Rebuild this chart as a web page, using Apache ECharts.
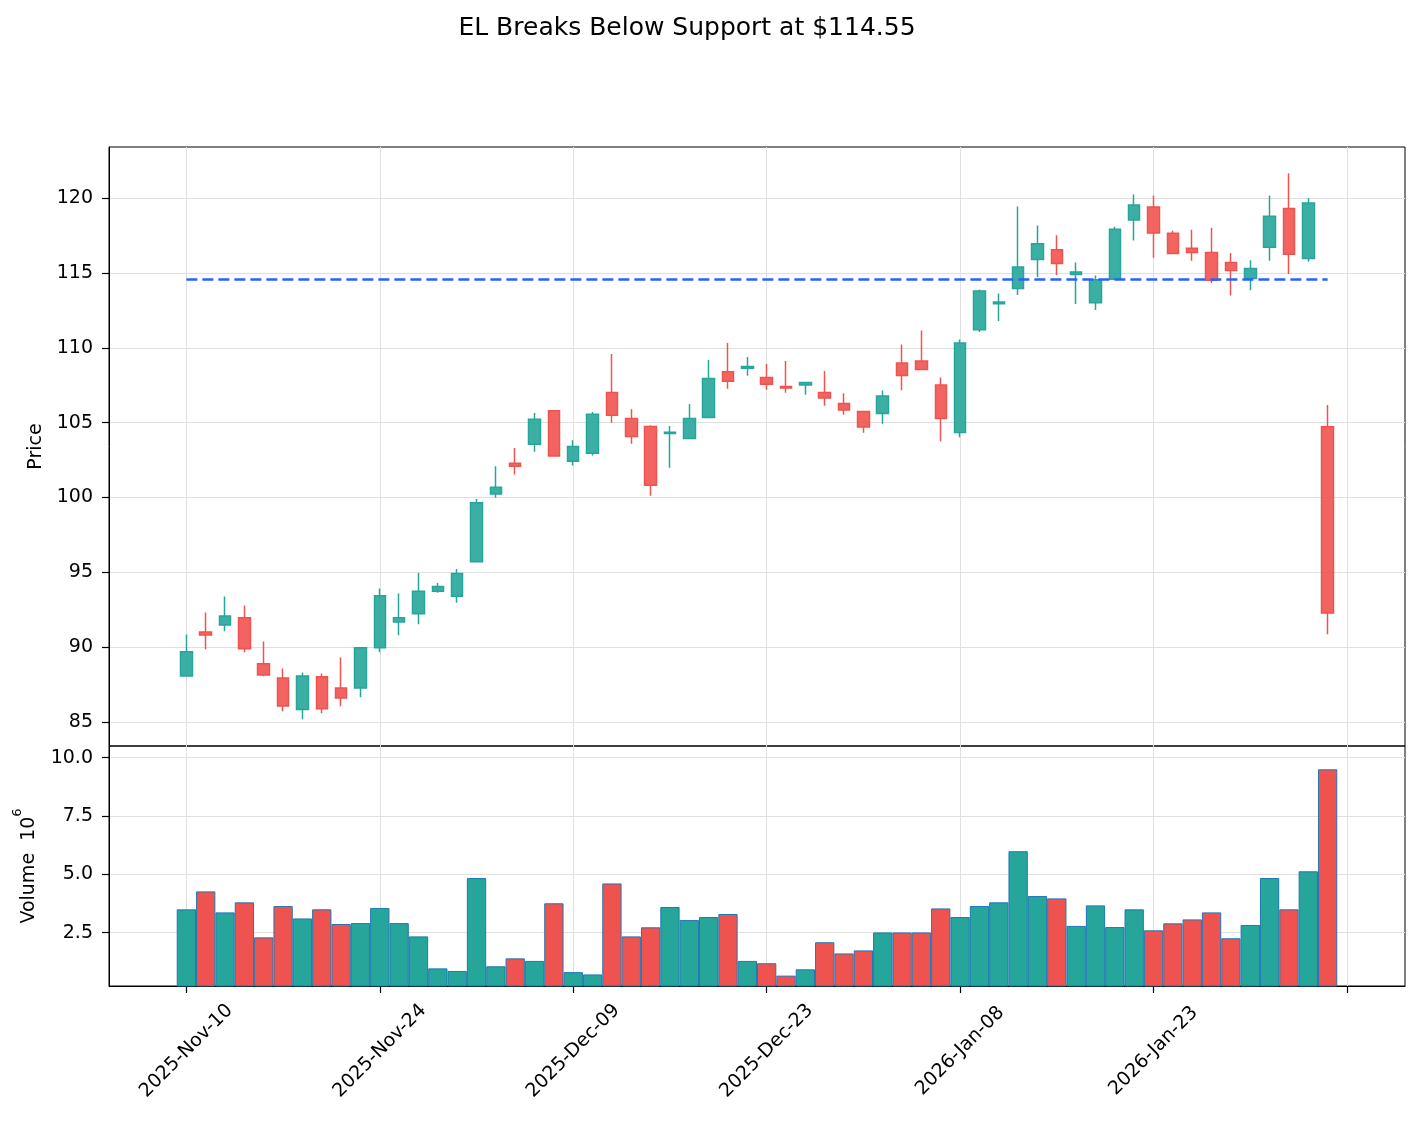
<!DOCTYPE html>
<html>
<head>
<meta charset="utf-8">
<script src="https://cdn.jsdelivr.net/npm/echarts@6/dist/echarts.min.js"></script>
<style>
html, body { margin: 0; padding: 0; background: #fff; }
#main { width: 1420px; height: 1126px; }
</style>
</head>
<body>
<div id="main"></div>
<script>
// trading days shown on the chart
var dates = [
    '2025-Nov-10', '2025-Nov-11', '2025-Nov-12', '2025-Nov-13', '2025-Nov-14',
    '2025-Nov-17', '2025-Nov-18', '2025-Nov-19', '2025-Nov-20', '2025-Nov-21',
    '2025-Nov-24', '2025-Nov-25', '2025-Nov-26', '2025-Nov-28', '2025-Dec-01',
    '2025-Dec-02', '2025-Dec-03', '2025-Dec-04', '2025-Dec-05', '2025-Dec-08',
    '2025-Dec-09', '2025-Dec-10', '2025-Dec-11', '2025-Dec-12', '2025-Dec-15',
    '2025-Dec-16', '2025-Dec-17', '2025-Dec-18', '2025-Dec-19', '2025-Dec-22',
    '2025-Dec-23', '2025-Dec-24', '2025-Dec-26', '2025-Dec-29', '2025-Dec-30',
    '2025-Dec-31', '2026-Jan-02', '2026-Jan-05', '2026-Jan-06', '2026-Jan-07',
    '2026-Jan-08', '2026-Jan-09', '2026-Jan-12', '2026-Jan-13', '2026-Jan-14',
    '2026-Jan-15', '2026-Jan-16', '2026-Jan-20', '2026-Jan-21', '2026-Jan-22',
    '2026-Jan-23', '2026-Jan-26', '2026-Jan-27', '2026-Jan-28', '2026-Jan-29',
    '2026-Jan-30', '2026-Feb-02', '2026-Feb-03', '2026-Feb-04', '2026-Feb-05'
];

var opens = [
    88.08, 91.02, 91.49, 91.96, 88.89, 87.95, 85.84, 88.02, 87.28, 87.28,
    89.96, 91.69, 92.23, 93.73, 93.40, 95.71, 100.23, 102.28, 103.55, 105.80,
    102.42, 102.95, 107.02, 105.28, 104.74, 104.28, 103.94, 105.35, 108.40, 108.64,
    108.02, 107.42, 107.51, 107.02, 106.28, 105.75, 105.61, 108.98, 109.11, 107.51,
    104.34, 111.20, 112.94, 113.96, 115.90, 116.55, 114.90, 113.01, 114.57, 118.53,
    119.40, 117.65, 116.64, 116.37, 115.70, 114.62, 116.71, 119.31, 115.97, 104.73
];
var closes = [
    89.69, 90.82, 92.09, 89.89, 88.15, 86.08, 88.08, 85.88, 86.61, 89.96,
    93.43, 91.96, 93.73, 94.06, 94.93, 99.65, 100.68, 102.08, 105.22, 102.77,
    103.40, 105.56, 105.50, 104.08, 100.82, 104.36, 105.28, 107.95, 107.77, 108.75,
    107.57, 107.31, 107.68, 106.64, 105.84, 104.70, 106.77, 108.15, 108.55, 105.28,
    110.31, 113.79, 113.05, 115.39, 116.95, 115.63, 115.06, 114.54, 117.92, 119.54,
    117.67, 116.30, 116.37, 114.51, 115.16, 115.29, 118.78, 116.24, 119.67, 92.28
];
var lows = [
    88.05, 89.87, 91.07, 89.67, 88.06, 85.72, 85.19, 85.59, 86.06, 86.66,
    89.67, 90.80, 91.54, 93.64, 92.97, 95.65, 99.99, 101.53, 103.06, 102.75,
    102.13, 102.80, 104.99, 103.59, 100.11, 101.98, 103.92, 105.33, 107.26, 108.13,
    107.19, 106.99, 106.86, 106.12, 105.52, 104.32, 104.92, 107.17, 108.53, 103.76,
    104.03, 111.05, 111.78, 113.52, 114.72, 114.86, 112.92, 112.52, 114.55, 117.16,
    116.01, 116.28, 115.81, 114.33, 113.49, 113.85, 115.81, 114.93, 115.74, 90.86
];
var highs = [
    90.85, 92.32, 93.39, 92.78, 90.38, 88.57, 88.31, 88.24, 89.31, 90.00,
    93.92, 93.59, 94.96, 94.29, 95.22, 99.90, 102.08, 103.31, 105.65, 105.82,
    103.82, 105.71, 109.58, 105.90, 104.83, 104.77, 106.24, 109.18, 110.31, 109.38,
    108.91, 109.11, 107.70, 108.44, 106.97, 105.77, 107.15, 110.22, 111.16, 108.02,
    110.56, 113.90, 113.63, 119.44, 118.17, 117.51, 115.70, 114.83, 118.08, 120.24,
    120.17, 117.81, 117.88, 118.01, 116.33, 115.85, 120.17, 121.65, 120.01, 106.18
];
// volume in millions of shares
var volumes = [
    3.50, 4.27, 3.37, 3.80, 2.30, 3.64, 3.11, 3.50, 2.87, 2.91,
    3.56, 2.91, 2.34, 0.97, 0.86, 4.84, 1.06, 1.40, 1.29, 3.76,
    0.81, 0.71, 4.61, 2.34, 2.73, 3.60, 3.04, 3.17, 3.30, 1.29,
    1.19, 0.66, 0.93, 2.09, 1.61, 1.74, 2.51, 2.51, 2.51, 3.54,
    3.17, 3.64, 3.80, 5.99, 4.07, 3.97, 2.79, 3.67, 2.74, 3.50,
    2.60, 2.90, 3.07, 3.37, 2.26, 2.83, 4.84, 3.50, 5.13, 9.50
];

var priceTicks = [85, 90, 95, 100, 105, 110, 115, 120];
var volumeTicks = [2.5, 5.0, 7.5, 10.0];
var support = 114.55;
var tickEvery = 10;

var upColor = '#26a69a';
var downColor = '#ef5350';
var font = 'DejaVu Sans';

// empty slots on both sides, like the matplotlib x limits
var padLeft = 4, padRight = 4;
var cats = [];
for (var i = 0; i < padLeft; i++) cats.push('padL' + i);
cats = cats.concat(dates);
for (var i = 0; i < padRight; i++) cats.push('padR' + i);

function isTick(idx) {
    var k = idx - padLeft;
    return k >= 0 && k % tickEvery === 0;
}

var candleData = [];
var volumeData = [];
for (var i = 0; i < dates.length; i++) {
    candleData.push([dates[i], opens[i], closes[i], lows[i], highs[i]]);
    volumeData.push({
        value: [dates[i], volumes[i]],
        itemStyle: { color: closes[i] >= opens[i] ? upColor : downColor }
    });
}

var myChart = echarts.init(document.getElementById('main'));

var gridLine = { show: true, lineStyle: { color: '#e0e0e0', width: 1 } };

var option = {
    animation: false,
    backgroundColor: '#fff',
    title: {
        text: 'EL Breaks Below Support at $114.55',
        left: 682,
        textAlign: 'center',
        top: 11,
        textStyle: { fontSize: 25, fontWeight: 'normal', color: '#000', fontFamily: font }
    },
    grid: [
        { left: 109, top: 147, width: 1296, height: 599, show: true, borderColor: '#000', borderWidth: 1 },
        { left: 109, top: 746, width: 1296, height: 240, show: true, borderColor: '#000', borderWidth: 1 }
    ],
    xAxis: [
        {
            gridIndex: 0, type: 'category', data: cats, boundaryGap: false,
            axisLine: { show: false },
            axisTick: { show: false },
            axisLabel: { show: false },
            splitLine: { show: true, interval: isTick, lineStyle: { color: '#e0e0e0', width: 1 } }
        },
        {
            gridIndex: 1, type: 'category', data: cats, boundaryGap: false,
            axisLine: { show: true, lineStyle: { color: '#000' } },
            axisTick: { show: true, interval: isTick, length: 7, lineStyle: { color: '#000', width: 1.2 } },
            axisLabel: {
                interval: isTick,
                rotate: 45,
                align: 'center',
                verticalAlign: 'middle',
                margin: 65,
                fontSize: 19,
                color: '#000',
                fontFamily: font,
                formatter: function (v) { return v.indexOf('pad') === 0 ? '' : v; }
            },
            splitLine: { show: true, interval: isTick, lineStyle: { color: '#e0e0e0', width: 1 } }
        }
    ],
    yAxis: [
        {
            gridIndex: 0, type: 'value', min: 83.4, max: 123.41, splitNumber: 8,
            axisLine: { show: true, lineStyle: { color: '#000' } },
            axisTick: { show: true, length: 7, customValues: priceTicks, lineStyle: { color: '#000', width: 1.2 } },
            axisLabel: { customValues: priceTicks, fontSize: 19, color: '#000', margin: 16, fontFamily: font },
            splitLine: gridLine,
            name: 'Price',
            nameLocation: 'middle',
            nameGap: 60,
            nameTextStyle: { fontSize: 19, color: '#000', fontFamily: font }
        },
        {
            gridIndex: 1, type: 'value', min: 0.215, max: 10.5, splitNumber: 4,
            axisLine: { show: true, lineStyle: { color: '#000' } },
            axisTick: { show: true, length: 7, customValues: volumeTicks, lineStyle: { color: '#000', width: 1.2 } },
            axisLabel: {
                customValues: volumeTicks, fontSize: 19, color: '#000', margin: 16, fontFamily: font,
                formatter: function (v) { return v.toFixed(1); }
            },
            splitLine: gridLine,
            name: '{a|Volume  10}{b|6}',
            nameLocation: 'middle',
            nameGap: 70,
            nameTextStyle: {
                color: '#000',
                fontFamily: font,
                rich: {
                    a: { fontSize: 19, fontFamily: font, color: '#000', lineHeight: 28, verticalAlign: 'bottom' },
                    b: { fontSize: 13, fontFamily: font, color: '#000', lineHeight: 28, verticalAlign: 'top' }
                }
            }
        }
    ],
    series: [
        {
            name: 'EL',
            type: 'candlestick',
            xAxisIndex: 0,
            yAxisIndex: 0,
            barWidth: 12,
            encode: { x: 0, y: [1, 2, 3, 4] },
            data: candleData,
            itemStyle: {
                color: 'rgba(38,166,154,0.9)',
                color0: 'rgba(239,83,80,0.9)',
                borderColor: upColor,
                borderColor0: downColor,
                borderWidth: 1.5
            },
            emphasis: { disabled: true },
            markLine: {
                silent: true,
                symbol: ['none', 'none'],
                label: { show: false },
                lineStyle: { color: '#2962ff', width: 2.5, type: [11, 5] },
                data: [[
                    { coord: [dates[0], support] },
                    { coord: [dates[dates.length - 1], support] }
                ]]
            }
        },
        {
            name: 'Volume',
            type: 'bar',
            xAxisIndex: 1,
            yAxisIndex: 1,
            barWidth: 19.3,
            data: volumeData,
            itemStyle: { borderColor: '#1f77b4', borderWidth: 1 },
            emphasis: { disabled: true }
        }
    ]
};

myChart.setOption(option);
</script>
</body>
</html>
